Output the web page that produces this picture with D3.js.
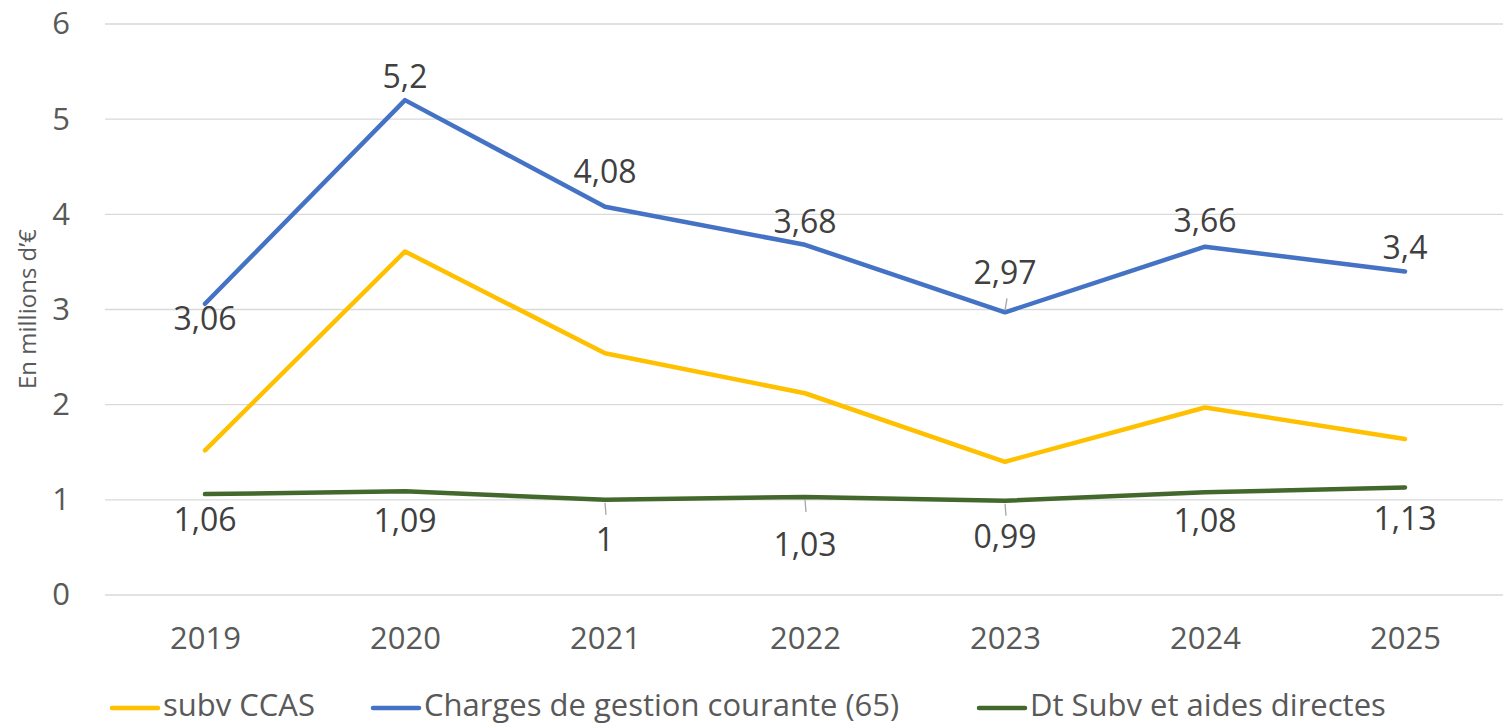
<!DOCTYPE html>
<html>
<head>
<meta charset="utf-8">
<script src="https://cdn.jsdelivr.net/npm/d3@7"></script>
<style>
  body { margin: 0; background: #fff; }
  svg text { font-family: "Open Sans", sans-serif; }
</style>
</head>
<body>
<div id="chart"></div>
<script>
const years = ['2019', '2020', '2021', '2022', '2023', '2024', '2025'];
const subvCCAS = [1.52, 3.61, 2.54, 2.12, 1.40, 1.97, 1.64];
const chargesGestion = [3.06, 5.2, 4.08, 3.68, 2.97, 3.66, 3.4];
const dtSubvAides = [1.06, 1.09, 1, 1.03, 0.99, 1.08, 1.13];
const yTicks = [0, 1, 2, 3, 4, 5, 6];

const seriesNames = ['subv CCAS', 'Charges de gestion courante (65)', 'Dt Subv et aides directes'];
const seriesColours = ['#FFC000', '#4472C4', '#43682B'];

// label offsets (px from the point, text centre) for the labelled series
const blueLabelDy = [15, -23, -35, -23, -40, -26, -24];
const greenLabelDy = [26, 30, 40, 48, 36, 29, 31];
const greenLeader = [false, false, true, true, true, false, false];
const blueLeader = [false, false, false, false, true, false, false];

const width = 1503;
const height = 725;
const plotLeft = 105, plotRight = 1505, plotTop = 24, plotBottom = 595;

window.onload = function() {
     const svg = d3.select('#chart')
          .append('svg')
               .attr('width', width)
               .attr('height', height);

     const x = d3.scalePoint()
          .domain(years)
          .range([plotLeft, plotRight])
          .padding(0.5);

     const y = d3.scaleLinear()
          .domain([0, 6])
          .range([plotBottom, plotTop]);

     // gridlines
     svg.append('g')
          .selectAll('line')
          .data(yTicks)
          .enter()
               .append('line')
                    .attr('x1', plotLeft)
                    .attr('x2', plotRight)
                    .attr('y1', d => y(d))
                    .attr('y2', d => y(d))
                    .attr('stroke', '#d9d9d9')
                    .attr('stroke-width', 1.3);

     // y axis
     const yAxis = svg.append('g')
          .attr('transform', `translate(${plotLeft}, 0)`)
          .call(d3.axisLeft(y).tickValues(yTicks).tickFormat(d3.format('d')).tickSize(0).tickPadding(35));
     yAxis.select('.domain').remove();
     yAxis.selectAll('text')
          .attr('font-size', 31)
          .attr('fill', '#595959')
          .style('font-family', '"Open Sans", sans-serif');

     // x axis
     const xAxis = svg.append('g')
          .attr('transform', `translate(0, ${plotBottom})`)
          .call(d3.axisBottom(x).tickSize(0).tickPadding(32));
     xAxis.select('.domain').remove();
     xAxis.selectAll('text')
          .attr('font-size', 31)
          .attr('fill', '#595959')
          .style('font-family', '"Open Sans", sans-serif');

     // y axis title
     svg.append('text')
          .attr('transform', `translate(28, 309) rotate(-90)`)
          .attr('text-anchor', 'middle')
          .attr('dy', '0.35em')
          .attr('font-size', 24)
          .attr('fill', '#595959')
          .text('En millions d\u2019\u20ac');

     const line = d3.line()
          .x((d, i) => x(years[i]))
          .y(d => y(d));

     [subvCCAS, chargesGestion, dtSubvAides].forEach((vals, k) => {
          svg.append('path')
               .datum(vals)
               .attr('d', line)
               .attr('fill', 'none')
               .attr('stroke', seriesColours[k])
               .attr('stroke-width', 4.5)
               .attr('stroke-linejoin', 'round')
               .attr('stroke-linecap', 'round');
     });

     const fmt = v => String(v).replace('.', ',');

     // leader lines
     function leaders(vals, flags, above) {
          svg.append('g')
               .selectAll('line')
               .data(vals.map((v, i) => ({v, i})).filter(d => flags[d.i]))
               .enter()
                    .append('line')
                         .attr('x1', d => x(years[d.i]))
                         .attr('x2', d => x(years[d.i]) + (above ? 2 : 1))
                         .attr('y1', d => y(d.v) + (above ? -2 : 3))
                         .attr('y2', d => y(d.v) + (above ? -14 : 15))
                         .attr('stroke', '#a6a6a6')
                         .attr('stroke-width', 1.3);
     }
     leaders(chargesGestion, blueLeader, true);
     leaders(dtSubvAides, greenLeader, false);

     function labels(vals, dys) {
          svg.append('g')
               .selectAll('text')
               .data(vals)
               .enter()
                    .append('text')
                         .attr('x', (d, i) => x(years[i]))
                         .attr('y', (d, i) => y(d) + dys[i])
                         .attr('dy', '0.35em')
                         .attr('text-anchor', 'middle')
                         .attr('font-size', 32)
                         .attr('fill', '#404040')
                         .text(d => fmt(d));
     }
     labels(chargesGestion, blueLabelDy);
     labels(dtSubvAides, greenLabelDy);

     // legend
     const legendX = [112, 373, 979];
     const legend = svg.append('g');
     seriesNames.forEach((name, k) => {
          legend.append('line')
               .attr('x1', legendX[k])
               .attr('x2', legendX[k] + 46)
               .attr('y1', 708)
               .attr('y2', 708)
               .attr('stroke', seriesColours[k])
               .attr('stroke-width', 4.5)
               .attr('stroke-linecap', 'round');
          legend.append('text')
               .attr('x', legendX[k] + 51)
               .attr('y', 716)
               .attr('font-size', 31)
               .attr('fill', '#595959')
               .text(name);
     });
};
</script>
</body>
</html>
